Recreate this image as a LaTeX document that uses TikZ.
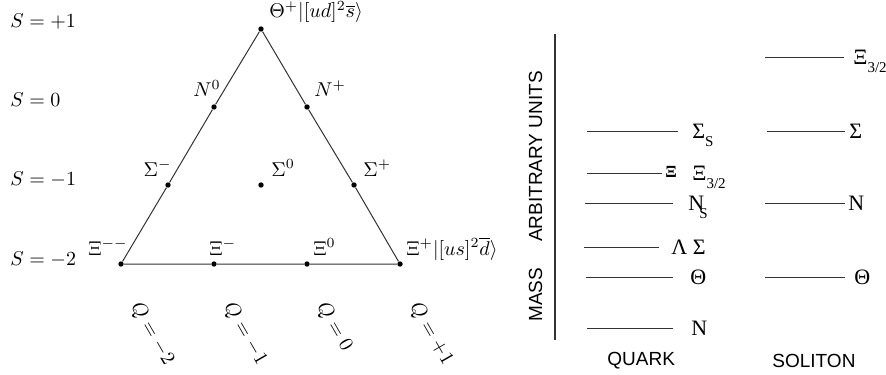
\documentclass[tikz,border=0pt]{standalone}
\usepackage{fontspec}
\newfontfamily\tmsfont{Liberation Serif}
\newfontfamily\hlvfont{Liberation Sans}
\newcommand\lowsub[1]{\raisebox{-4pt}{\fontsize{7.5}{8}\selectfont #1}}
\begin{document}
\begin{tikzpicture}[x=0.5pt,y=-0.5pt,
  dot/.style={circle,fill=black,inner sep=0pt,minimum size=2.7pt},
  lab/.style={inner sep=0pt,font=\fontsize{10}{12}\selectfont},
  edge/.style={line width=0.5pt,draw=black!80},
  lvl/.style={line width=0.5pt,draw=black!80},
  tl/.style={inner sep=0pt,font=\fontsize{11}{13}\selectfont\tmsfont,anchor=base west},
  sl/.style={inner sep=0pt,font=\fontsize{9.5}{11}\selectfont\hlvfont,anchor=base west}]
\useasboundingbox (0,0) rectangle (886,374);
% ---------- weight diagram ----------
\node[dot] (th) at (261,29) {};
\node[dot] (n0) at (214,107) {};
\node[dot] (np) at (307,107) {};
\node[dot] (sm) at (168,185) {};
\node[dot] (s0) at (261,185) {};
\node[dot] (sp) at (354,185) {};
\node[dot] (xmm) at (121,264) {};
\node[dot] (xm) at (214,264) {};
\node[dot] (x0) at (307,264) {};
\node[dot] (xp) at (400,264) {};
\draw[edge] (th) -- (n0) -- (sm) -- (xmm) -- (xm) -- (x0) -- (xp) -- (sp) -- (np) -- (th);
% labels
\node[lab,anchor=base west] (lth) at (269,18) {$\Theta^+|[ud]^2\overline{s}\rangle$};
\node[lab,anchor=base east] (ln0) at (221,97) {$N^0$};
\node[lab,anchor=base west] (lnp) at (314,97) {$N^+$};
\node[lab,anchor=base east] (lsm) at (172,176) {$\Sigma^-$};
\node[lab,anchor=base west] (ls0) at (271,176) {$\Sigma^0$};
\node[lab,anchor=base west] (lsp) at (363,176) {$\Sigma^+$};
\node[lab,anchor=base east] (lxmm) at (128,255) {$\Xi^{--}$};
\node[lab,anchor=base west] (lxm) at (209,255) {$\Xi^-$};
\node[lab,anchor=base west] (lx0) at (313,255) {$\Xi^0$};
\node[lab,anchor=base west] (lxp) at (406,255) {$\Xi^+|[us]^2\overline{d}\rangle$};
\node[lab,anchor=base west] (s1) at (10,28) {$S=+1$};
\node[lab,anchor=base west] (s2) at (10,106) {$S=0$};
\node[lab,anchor=base west] (s3) at (10,185) {$S=-1$};
\node[lab,anchor=base west] (s4) at (10,265) {$S=-2$};
\node[lab,rotate=-60,anchor=west] (q1) at (135,304) {$Q=-2$};
\node[lab,rotate=-60,anchor=west] (q2) at (228,304) {$Q=-1$};
\node[lab,rotate=-60,anchor=west] (q3) at (321,304) {$Q=0$};
\node[lab,rotate=-60,anchor=west] (q4) at (414,304) {$Q=+1$};
% ---------- mass levels ----------
\coordinate (axt) at (555,34);
\coordinate (axb) at (555,340);
\draw[line width=0.6pt,draw=black!80] (axt) -- (axb);
\node[sl,rotate=90] (ax) at (542,322) {MASS\hspace{13pt}ARBITRARY UNITS};
\node[sl] (qk) at (607,365) {QUARK};
\node[sl] (sol) at (772,367) {SOLITON};
% quark column
\draw[lvl] (587,131) -- (678,131);
\draw[lvl] (587,173) -- (662,173);
\draw[lvl] (585,203) -- (673,203);
\draw[lvl] (584,247) -- (659,247);
\draw[lvl] (586,277) -- (673,277);
\draw[lvl] (587,328) -- (673,328);
\node[tl] (q-sig) at (692,138) {Σ\lowsub{S}};
\node[tl,font=\fontsize{8.5}{10}\selectfont\bfseries\tmsfont] (q-xi) at (665,177) {Ξ};
\node[tl] (q-xi32) at (692,180) {Ξ\lowsub{3/2}};
\node[tl] (q-ns) at (688,210) {N\kern-2.5pt\lowsub{S}};
\node[tl] (q-ls) at (671,254) {Λ Σ};
\node[tl] (q-th) at (690,284) {Θ};
\node[tl] (q-n) at (691,335) {N};
% soliton column
\draw[lvl] (765,58) -- (844,58);
\draw[lvl] (767,131) -- (845,131);
\draw[lvl] (765,203) -- (845,203);
\draw[lvl] (765,277) -- (845,277);
\node[tl] (s-xi) at (853,65) {Ξ\lowsub{3/2}};
\node[tl] (s-sig) at (849,138) {Σ};
\node[tl] (s-n) at (848,210) {N};
\node[tl] (s-th) at (854,284) {Θ};
\end{tikzpicture}
\end{document}
